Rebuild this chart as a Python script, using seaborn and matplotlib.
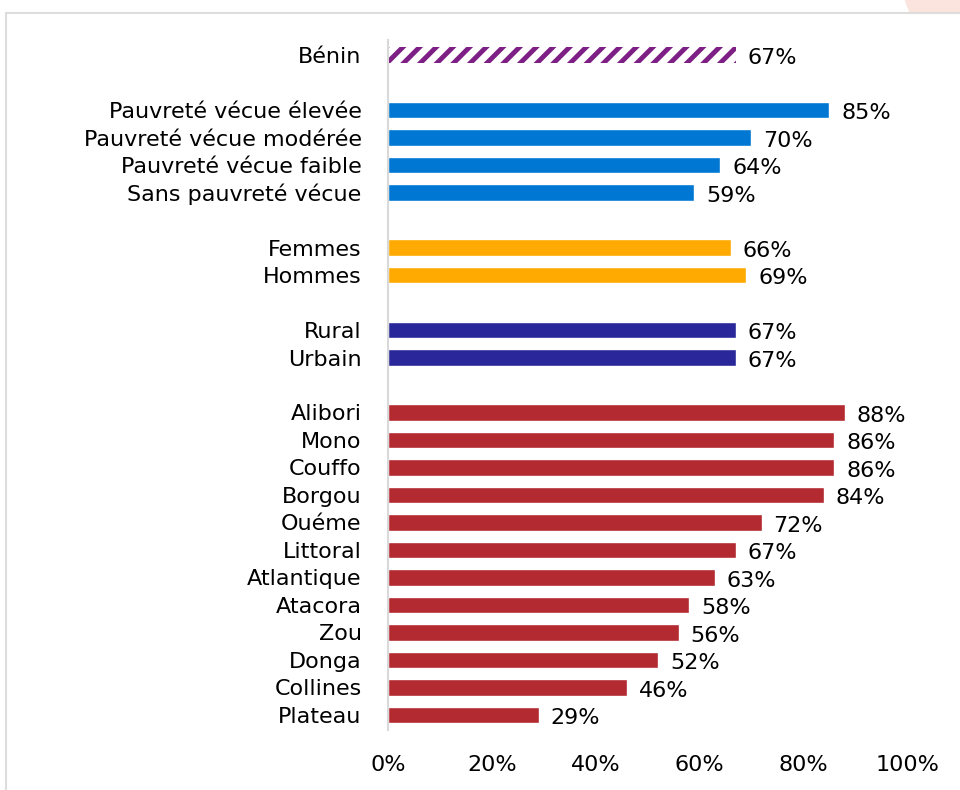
import matplotlib
matplotlib.use("Agg")
import matplotlib.pyplot as plt
from matplotlib.patches import Rectangle, Ellipse
import seaborn as sns
import pandas as pd

# Categories, grouped from top to bottom
labels = [
    "Bénin",
    "Pauvreté vécue élevée", "Pauvreté vécue modérée", "Pauvreté vécue faible", "Sans pauvreté vécue",
    "Femmes", "Hommes",
    "Rural", "Urbain",
    "Alibori", "Mono", "Couffo", "Borgou", "Ouéme", "Littoral", "Atlantique",
    "Atacora", "Zou", "Donga", "Collines", "Plateau",
]
values = [67, 85, 70, 64, 59, 66, 69, 67, 67,
          88, 86, 86, 84, 72, 67, 63, 58, 56, 52, 46, 29]
groups = ["national"] + ["pauvrete"] * 4 + ["sexe"] * 2 + ["milieu"] * 2 + ["departement"] * 12
group_sizes = [1, 4, 2, 2, 12]
palette = {
    "national": "#7E1F86",
    "pauvrete": "#0077D2",
    "sexe": "#FFAA00",
    "milieu": "#292799",
    "departement": "#B32A30",
}
xticks = [0, 20, 40, 60, 80, 100]
xtick_labels = ["0%", "20%", "40%", "60%", "80%", "100%"]

# Row positions with one empty row between groups
positions = []
row = 0
for size in group_sizes:
    for _ in range(size):
        positions.append(row)
        row += 1
    row += 1

df = pd.DataFrame({"label": labels, "value": values, "group": groups, "pos": positions})

sns.set_style("white")
plt.rcParams["font.family"] = ["DejaVu Sans"]
plt.rcParams["hatch.linewidth"] = 3.5

FS = 16
fig = plt.figure(figsize=(9.6, 7.9), dpi=100)

# Light frame and corner decoration
fig.patches.append(Ellipse((1000 / 960, 1 - (-30) / 790), 200 / 960, 200 / 790,
                           transform=fig.transFigure, facecolor="#FCE4DE",
                           edgecolor="none", zorder=0))
fig.patches.append(Rectangle((5.5 / 960, -0.05), 1.0, 1.05 - 12.5 / 790,
                             transform=fig.transFigure, facecolor="white",
                             edgecolor="#DDDDDD", linewidth=1.5, zorder=1))

ax = fig.add_axes([388 / 960, 1 - 730 / 790, (907 - 388) / 960, (730 - 40) / 790])
ax.set_zorder(2)
ax.patch.set_alpha(0)

sns.barplot(data=df, x="value", y="pos", hue="group", palette=palette,
            orient="h", native_scale=True, width=0.6, dodge=False,
            legend=False, saturation=1, ax=ax)

# National bar drawn with diagonal stripes
for patch in ax.patches:
    y_center = patch.get_y() + patch.get_height() / 2
    if abs(y_center - df.loc[0, "pos"]) < 0.01:
        patch.set_facecolor("white")
        patch.set_edgecolor(palette["national"])
        patch.set_hatch("//")
        patch.set_linewidth(0)

for _, r in df.iterrows():
    ax.text(r["value"] + 2.3, r["pos"] + 0.12, f"{r['value']}%",
            va="center", ha="left", fontsize=FS, color="black")

ax.set_xlim(0, 100)
ax.set_ylim(row - 1 - 0.45, -0.55)
ax.set_yticks(df["pos"])
ax.set_yticklabels(df["label"], fontsize=FS, color="black")
ax.set_xticks(xticks)
ax.set_xticklabels(xtick_labels, fontsize=FS, color="black")
ax.tick_params(axis="y", length=0, pad=19)
ax.tick_params(axis="x", length=0, pad=18)
ax.set_xlabel("")
ax.set_ylabel("")
for side in ["top", "right", "bottom"]:
    ax.spines[side].set_visible(False)
ax.spines["left"].set_color("#D9D9D9")
ax.spines["left"].set_linewidth(1.5)

fig.savefig("out.png", dpi=100)
